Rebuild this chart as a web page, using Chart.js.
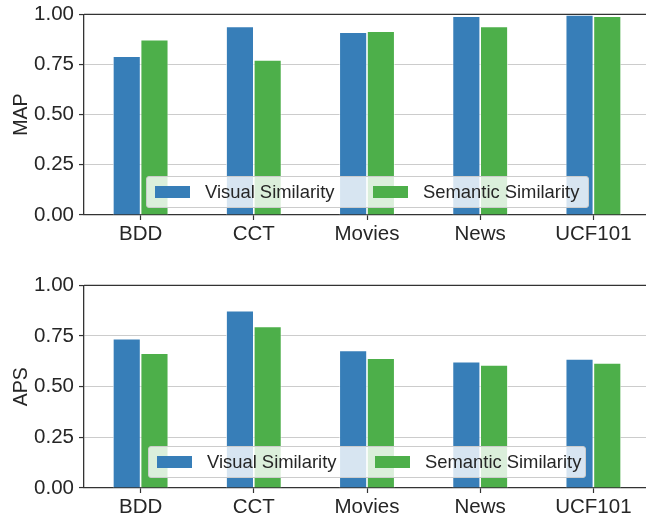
<!DOCTYPE html>
<html>
<head>
<meta charset="utf-8">
<script src="https://cdn.jsdelivr.net/npm/chart.js@4.4.1/dist/chart.umd.min.js"></script>
<style>
  html, body { margin: 0; padding: 0; background: #fff; }
  #wrap { position: relative; width: 646px; height: 516px; overflow: hidden; }
  .cbox { position: absolute; left: 0; width: 660px; }
  .legend { position: absolute; box-sizing: border-box; background: rgba(255,255,255,0.8);
            border: 1px solid #cccccc; border-radius: 3px; font-family: "Liberation Sans", Arial, sans-serif;
            font-size: 18.4px; color: #262626; }
  .legend .item { position: absolute; top: 0; height: 100%; display: flex; align-items: center; white-space: nowrap; }
  .legend .patch { display: inline-block; width: 35px; height: 12px; margin-right: 15px; }
</style>
</head>
<body>
<div id="wrap">
  <div class="cbox" style="top:-3px; height:258px;"><canvas id="c1" width="660" height="258"></canvas></div>
  <div class="cbox" style="top:268px; height:260px;"><canvas id="c2" width="660" height="260"></canvas></div>
  <div class="legend" id="lg1" style="left:146px; top:176px; width:443px; height:32px;"></div>
  <div class="legend" id="lg2" style="left:148px; top:446px; width:438px; height:32px;"></div>
</div>
<script>
const categories = ['BDD', 'CCT', 'Movies', 'News', 'UCF101'];
const seriesNames = ['Visual Similarity', 'Semantic Similarity'];
const mapVisual   = [0.791, 0.940, 0.911, 0.990, 0.997];
const mapSemantic = [0.873, 0.773, 0.916, 0.940, 0.990];
const apsVisual   = [0.737, 0.875, 0.678, 0.623, 0.637];
const apsSemantic = [0.665, 0.797, 0.640, 0.607, 0.617];
const yTicks = [0, 0.25, 0.5, 0.75, 1.0];

const BLUE = '#377eb8';
const GREEN = '#4daf4a';
const FONT = { family: '"Liberation Sans", Arial, sans-serif', size: 20.5 };
const TFONT = { family: '"Liberation Sans", Arial, sans-serif', size: 19.5 };
const TXT = '#262626';

const topSpine = {
  id: 'topSpine',
  afterDatasetsDraw(chart) {
    const a = chart.chartArea, ctx = chart.ctx;
    ctx.save();
    ctx.strokeStyle = '#333333';
    ctx.lineWidth = 1.3;
    ctx.beginPath();
    ctx.moveTo(a.left, a.top);
    ctx.lineTo(a.right, a.top);
    ctx.stroke();
    ctx.restore();
  }
};

function makeChart(id, title, v1, v2, legendId) {
  const chart = new Chart(document.getElementById(id), {
    type: 'bar',
    data: {
      labels: categories,
      datasets: [
        { label: seriesNames[0], data: v1, backgroundColor: BLUE, borderColor: 'rgba(255,255,255,0.9)', borderWidth: 0.8,
          categoryPercentage: 0.49, barPercentage: 1.0 },
        { label: seriesNames[1], data: v2, backgroundColor: GREEN, borderColor: 'rgba(255,255,255,0.9)', borderWidth: 0.8,
          categoryPercentage: 0.49, barPercentage: 1.0 }
      ]
    },
    options: {
      responsive: false,
      animation: false,
      layout: { padding: { top: 11, right: 10, left: 0, bottom: 0 } },
      plugins: { legend: { display: false }, tooltip: { enabled: false } },
      scales: {
        x: {
          offset: true,
          grid: { display: true, drawOnChartArea: false, offset: false, tickLength: 5, tickColor: '#333333', tickWidth: 1.2 },
          border: { color: '#333333', width: 1.3 },
          ticks: { font: FONT, color: TXT, padding: 2, maxRotation: 0 },
          afterFit(s) { s.height = 40; }
        },
        y: {
          min: 0, max: 1,
          afterBuildTicks(s) { s.ticks = yTicks.map(v => ({ value: v })); },
          grid: { color: '#cccccc', lineWidth: 1.1, tickLength: 5, tickColor: '#333333', tickWidth: 1.2 },
          border: { color: '#333333', width: 1.3 },
          ticks: { font: FONT, color: TXT, padding: 5, callback: v => Number(v).toFixed(2) },
          title: { display: true, text: title, font: TFONT, color: TXT, padding: { top: 10, bottom: 0 } },
          afterFit(s) { s.width = 84; }
        }
      }
    },
    plugins: [topSpine]
  });
  const lg = document.getElementById(legendId);
  const offsets = [8, 226];
  chart.data.datasets.forEach((ds, i) => {
    const it = document.createElement('div');
    it.className = 'item';
    it.style.left = offsets[i] + 'px';
    const p = document.createElement('span');
    p.className = 'patch';
    p.style.background = ds.backgroundColor;
    const t = document.createElement('span');
    t.textContent = ds.label;
    it.appendChild(p); it.appendChild(t);
    lg.appendChild(it);
  });
  return chart;
}

makeChart('c1', 'MAP', mapVisual, mapSemantic, 'lg1');
makeChart('c2', 'APS', apsVisual, apsSemantic, 'lg2');
</script>
</body>
</html>
